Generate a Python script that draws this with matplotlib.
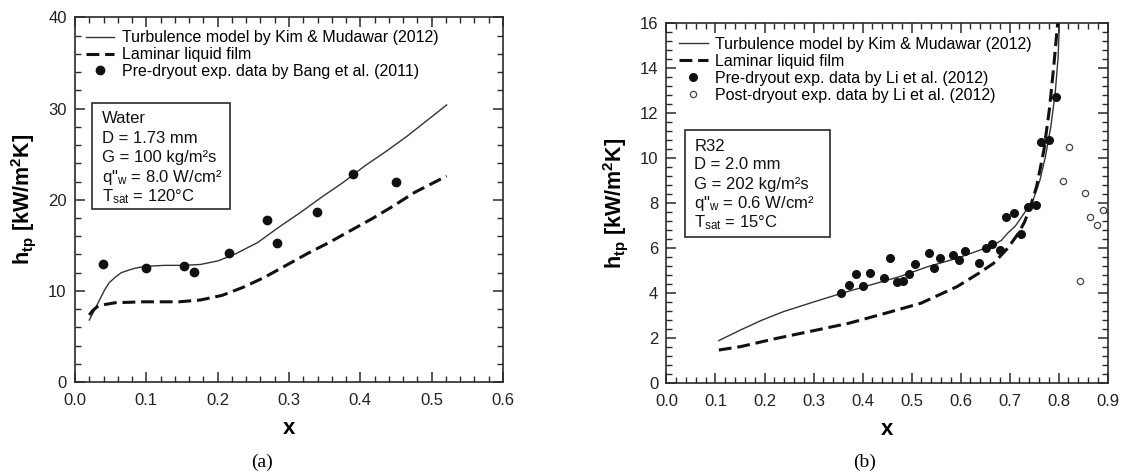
import numpy as np
import matplotlib
matplotlib.use('Agg')
import matplotlib.pyplot as plt
from matplotlib.patches import Rectangle
from matplotlib.ticker import MultipleLocator, FormatStrFormatter

plt.rcParams['font.family'] = ['Liberation Sans', 'DejaVu Sans']
plt.rcParams['mathtext.fontset'] = 'custom'
plt.rcParams['mathtext.rm'] = 'Liberation Sans'
plt.rcParams['mathtext.it'] = 'Liberation Sans:italic'
plt.rcParams['mathtext.bf'] = 'Liberation Sans:bold'

# ── (a) Water, Bang et al. (2011) ────────────────────────────────────────────
a_turb_x = [0.02, 0.0275, 0.035, 0.0415, 0.048, 0.0565, 0.065, 0.0764, 0.085,
            0.0994, 0.126, 0.153, 0.176, 0.201, 0.226, 0.256, 0.286, 0.316,
            0.346, 0.376, 0.406, 0.436, 0.466, 0.521]
a_turb_y = [6.8, 7.9, 9.1, 10.1, 10.9, 11.5, 12.0, 12.3, 12.5,
            12.7, 12.8, 12.8, 12.9, 13.3, 14.1, 15.3, 17.0, 18.6,
            20.3, 21.9, 23.7, 25.3, 27.0, 30.4]
a_lam_x = [0.02, 0.025, 0.031, 0.042, 0.0565, 0.0964, 0.146, 0.176, 0.206,
           0.236, 0.266, 0.296, 0.326, 0.356, 0.386, 0.416, 0.446, 0.476, 0.521]
a_lam_y = [7.35, 7.85, 8.25, 8.5, 8.7, 8.8, 8.8, 9.0, 9.5,
           10.4, 11.5, 12.8, 14.1, 15.3, 16.6, 17.9, 19.3, 20.8, 22.6]
a_exp_x = [0.039, 0.0995, 0.153, 0.1665, 0.2165, 0.269, 0.283, 0.3395, 0.39, 0.4495]
a_exp_y = [13.0, 12.5, 12.7, 12.1, 14.2, 17.8, 15.3, 18.7, 22.8, 21.9]
a_info = ["Water", "D = 1.73 mm", "G = 100 kg/m²s",
          'q"$_\\mathrm{w}$ = 8.0 W/cm²', "T$_\\mathrm{sat}$ = 120°C"]

# ── (b) R32, Li et al. (2012) ────────────────────────────────────────────────
b_turb_x = [0.1068, 0.151, 0.195, 0.239, 0.298, 0.357, 0.416, 0.475, 0.534,
            0.593, 0.637, 0.667, 0.683, 0.696, 0.712, 0.725, 0.748, 0.762,
            0.773, 0.784, 0.793, 0.799, 0.803]
b_turb_y = [1.90, 2.37, 2.81, 3.19, 3.60, 4.0, 4.37, 4.74, 5.19,
            5.56, 5.90, 6.15, 6.35, 6.67, 7.0, 7.41, 8.15, 9.04,
            10.07, 11.4, 12.9, 14.5, 17.0]
b_lam_x = [0.1068, 0.151, 0.225, 0.298, 0.372, 0.446, 0.519, 0.593, 0.637,
           0.667, 0.696, 0.718, 0.730, 0.740, 0.755, 0.770, 0.781, 0.790,
           0.798, 0.801]
b_lam_y = [1.48, 1.63, 2.0, 2.33, 2.67, 3.11, 3.56, 4.30, 4.89,
           5.33, 6.0, 6.67, 7.15, 7.70, 8.74, 10.37, 12.15, 14.07,
           16.0, 17.0]
b_pre_x = [0.357, 0.372, 0.3865, 0.401, 0.416, 0.444, 0.457, 0.470, 0.482,
           0.494, 0.507, 0.535, 0.546, 0.558, 0.584, 0.597, 0.608, 0.638,
           0.652, 0.665, 0.680, 0.693, 0.708, 0.724, 0.738, 0.753, 0.765,
           0.781, 0.795]
b_pre_y = [4.0, 4.37, 4.84, 4.33, 4.92, 4.67, 5.59, 4.52, 4.55,
           4.86, 5.30, 5.78, 5.14, 5.56, 5.69, 5.48, 5.90, 5.33,
           6.0, 6.18, 5.93, 7.38, 7.56, 6.62, 7.82, 7.93, 10.74,
           10.81, 12.74]
b_post_x = [0.808, 0.821, 0.843, 0.854, 0.865, 0.879, 0.891]
b_post_y = [8.99, 10.52, 4.55, 8.47, 7.41, 7.04, 7.70]
b_info = ["R32", "D = 2.0 mm", "G = 202 kg/m²s",
          'q"$_\\mathrm{w}$ = 0.6 W/cm²', "T$_\\mathrm{sat}$ = 15°C"]

lbl_turb = "Turbulence model by Kim & Mudawar (2012)"
lbl_lam = "Laminar liquid film"

INK = '#2a2a2a'
DASH = (4.2, 1.9)


def style_axes(ax, xmaj, xmin, ymaj, ymin, xfmt):
    ax.xaxis.set_major_locator(MultipleLocator(xmaj))
    ax.xaxis.set_minor_locator(MultipleLocator(xmin))
    ax.yaxis.set_major_locator(MultipleLocator(ymaj))
    ax.yaxis.set_minor_locator(MultipleLocator(ymin))
    ax.xaxis.set_major_formatter(FormatStrFormatter(xfmt))
    ax.tick_params(which='both', direction='in', top=True, right=True,
                   color=INK, labelcolor='#222222', labelsize=12)
    ax.tick_params(which='major', length=7, width=1.1)
    ax.tick_params(which='minor', length=4, width=1.0)
    ax.tick_params(axis='x', pad=8)
    ax.tick_params(axis='y', pad=6)
    for s in ax.spines.values():
        s.set_color(INK)
        s.set_linewidth(1.2)
    ax.set_xlabel('x', fontsize=16, fontweight='bold', labelpad=7)
    ax.set_ylabel('h$_\\mathbf{tp}$ [kW/m$^\\mathbf{2}$K]', fontsize=15.5,
                  fontweight='bold', labelpad=7)


def info_box(ax, lines, x0, x1, y0, y1, tx, ys):
    ax.add_patch(Rectangle((x0, y0), x1 - x0, y1 - y0, transform=ax.transAxes,
                           fill=False, edgecolor=INK, linewidth=1.2, zorder=3))
    for s, y in zip(lines, ys):
        ax.text(tx, y, s, transform=ax.transAxes, fontsize=12,
                va='baseline', ha='left', color='#111111')


fig = plt.figure(figsize=(11.26, 4.74), dpi=100)
ax1 = fig.add_axes([0.0666, 0.1941, 0.3801, 0.769])
ax2 = fig.add_axes([0.5919, 0.1913, 0.3918, 0.7595])

# ── panel (a) ──
ax1.plot(a_turb_x, a_turb_y, '-', color='#333333', lw=1.0, label=lbl_turb)
ax1.plot(a_lam_x, a_lam_y, '--', color='#111111', lw=2.2, dashes=DASH, label=lbl_lam)
ax1.plot(a_exp_x, a_exp_y, 'o', color='#111111', ms=6, ls='none',
         label="Pre-dryout exp. data by Bang et al. (2011)")
ax1.set_xlim(0, 0.6)
ax1.set_ylim(0, 40)
style_axes(ax1, 0.1, 0.02, 10, 2, '%.1f')
ax1.legend(loc='upper left', bbox_to_anchor=(0.025, 0.965), frameon=False,
           fontsize=11.5, handlelength=1.8, handletextpad=0.45,
           labelspacing=0.12, borderpad=0, borderaxespad=0, numpoints=1)
info_box(ax1, a_info, 0.039, 0.362, 0.474, 0.766, 0.064,
         [0.710, 0.655, 0.603, 0.550, 0.497])

# ── panel (b) ──
ax2.plot(b_turb_x, b_turb_y, '-', color='#333333', lw=1.0, label=lbl_turb)
ax2.plot(b_lam_x, b_lam_y, '--', color='#111111', lw=2.2, dashes=DASH, label=lbl_lam)
ax2.plot(b_pre_x, b_pre_y, 'o', color='#111111', ms=5.5, ls='none',
         label="Pre-dryout exp. data by Li et al. (2012)")
ax2.plot(b_post_x, b_post_y, 'o', mfc='white', mec='#444444', mew=0.9, ms=4.5,
         ls='none', label="Post-dryout exp. data by Li et al. (2012)")
ax2.set_xlim(0, 0.9)
ax2.set_ylim(0, 16)
style_axes(ax2, 0.1, 0.02, 2, 0.4, '%.1f')
ax2.legend(loc='upper left', bbox_to_anchor=(0.028, 0.962), frameon=False,
           fontsize=11.5, handlelength=1.8, handletextpad=0.45,
           labelspacing=0.12, borderpad=0, borderaxespad=0, numpoints=1)
info_box(ax2, b_info, 0.043, 0.371, 0.406, 0.704, 0.063,
         [0.645, 0.594, 0.540, 0.487, 0.434])

fig.text(262 / 1126, 1 - 462 / 474, '(a)', family=['Liberation Serif', 'DejaVu Serif'],
         fontsize=14, ha='center', va='center')
fig.text(865 / 1126, 1 - 462 / 474, '(b)', family=['Liberation Serif', 'DejaVu Serif'],
         fontsize=14, ha='center', va='center')

fig.savefig('out.png', dpi=100)
